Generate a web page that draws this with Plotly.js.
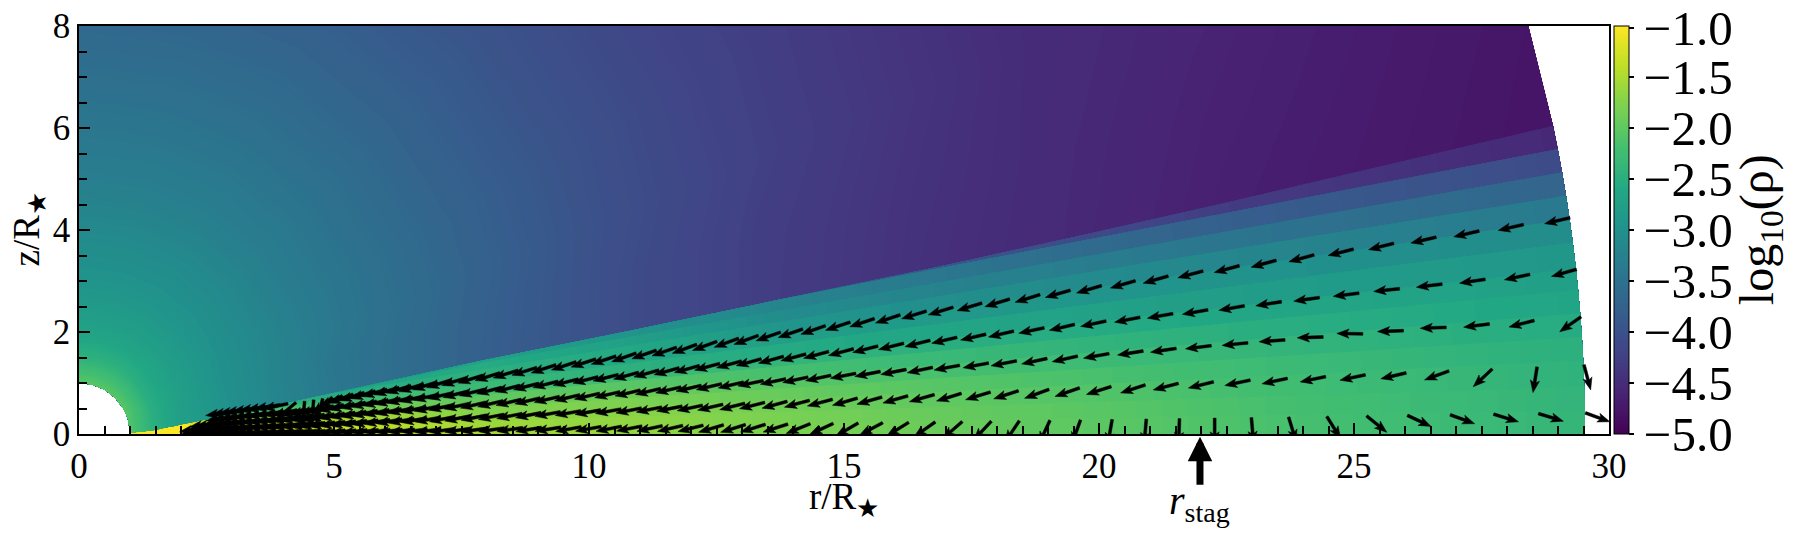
<!DOCTYPE html>
<html>
<head>
<meta charset="utf-8">
<script src="https://cdn.plot.ly/plotly-3.0.1.min.js"></script>
<style>html,body{margin:0;padding:0;background:#fff}</style>
</head>
<body>
<div id="chart" style="width:1794px;height:536px"></div>
<script>
// Radial stations of the density table (R/R_star)
const radii = [1, 1.5, 2, 3, 5, 8, 11, 14, 17, 20, 23, 29.53];
// Disc surface angle above the midplane (deg) at each station
const surfaceAngle = [0.5, 2.5, 4.8, 7, 9.1, 10.3, 10.6, 10.85, 11, 11.2, 11.4, 11.8];

// Band edges (deg) and log10(rho) in each band at each station
const bandEdges = [0, 0.9, 1.8, 2.8, 3.7, 4.6, 5.5, 6.3, 7.3, 8.2, 9.1, 10, 10.9, 11.8];
const bandRho = [
    [-1, -1, -1, -1.1, -1.3, -1.55, -1.65, -1.8, -1.93, -2.03, -2.15, -2.38],
    [-1, -1, -1, -1.12, -1.33, -1.58, -1.67, -1.82, -1.95, -2.05, -2.17, -2.4],
    [-1, -1, -1, -1.2, -1.4, -1.65, -1.72, -1.87, -2, -2.1, -2.21, -2.43],
    [-1, -1, -1, -1.3, -1.5, -1.75, -1.8, -1.95, -2.07, -2.17, -2.27, -2.48],
    [-1, -1, -1, -1.45, -1.65, -1.88, -1.9, -2.06, -2.18, -2.28, -2.37, -2.55],
    [-1, -1, -1, -1.6, -1.8, -2, -2.05, -2.2, -2.32, -2.41, -2.49, -2.65],
    [-1, -1, -1, -1.8, -2, -2.15, -2.27, -2.38, -2.48, -2.56, -2.63, -2.76],
    [-1, -1, -1, -2, -2.2, -2.3, -2.47, -2.57, -2.65, -2.73, -2.8, -2.89],
    [-1, -1, -1, -2.2, -2.4, -2.4, -2.63, -2.76, -2.85, -2.92, -2.98, -3.08],
    [-1, -1, -1, -2.4, -2.55, -2.45, -2.6, -2.93, -3.03, -3.1, -3.18, -3.38],
    [-1, -1, -1, -2.6, -2.7, -2.55, -2.75, -3.08, -3.22, -3.32, -3.45, -3.72],
    [-1, -1, -1, -2.75, -2.9, -2.7, -2.95, -3.2, -3.4, -3.6, -3.8, -4.1],
    [-1, -1, -1, -3, -3.2, -3, -3.2, -3.5, -3.9, -4.1, -4.3, -4.55]
];

// Wind above the disc: angle rows (deg) and log10(rho) at each station
const windAngles = [null, 16, 22, 30, 45, 60, 75, 90];
const windRho = [
    [-2.1, -2.5, -2.75, -3, -3.4, -3.78, -4.08, -4.3, -4.45, -4.55, -4.65, -4.78],
    [-2.1, -2.5, -2.75, -3, -3.4, -3.75, -4.06, -4.28, -4.42, -4.53, -4.62, -4.76],
    [-2.05, -2.5, -2.72, -3, -3.35, -3.7, -4.01, -4.22, -4.37, -4.5, -4.57, -4.72],
    [-2.05, -2.5, -2.72, -2.98, -3.33, -3.68, -3.98, -4.2, -4.35, -4.48, -4.55, -4.7],
    [-2.05, -2.47, -2.7, -2.96, -3.31, -3.66, -3.96, -4.17, -4.32, -4.45, -4.53, -4.68],
    [-2.05, -2.45, -2.7, -2.95, -3.3, -3.65, -3.95, -4.15, -4.3, -4.43, -4.5, -4.65],
    [-2.05, -2.45, -2.7, -2.95, -3.3, -3.65, -3.95, -4.15, -4.3, -4.43, -4.5, -4.65],
    [-2.05, -2.45, -2.7, -2.95, -3.3, -3.65, -3.95, -4.15, -4.3, -4.43, -4.5, -4.65]
];

// Arrow tails: radius of each column, outside to inside
const arrowRadii = [
    29.54, 28.62, 27.74, 26.89, 26.05, 25.25, 24.47, 23.72, 22.99, 22.27,
    21.58, 20.93, 20.26, 19.64, 19.04, 18.44, 17.89, 17.32, 16.79, 16.27,
    15.76, 15.28, 14.79, 14.34, 13.9, 13.46, 13.07, 12.64, 12.24, 11.84,
    11.44, 11.04, 10.64, 10.24, 9.85, 9.45, 9.07, 8.7, 8.34, 8,
    7.68, 7.38, 7.1, 6.83, 6.58, 6.34, 6.1, 5.87, 5.65, 5.43,
    5.22, 5.02, 4.83, 4.65, 4.47, 4.3, 4.14, 3.98, 3.83, 3.68,
    3.54, 3.4, 3.27, 3.14, 3.02, 2.9, 2.79, 2.68, 2.58, 2.48
];
// Slope z/r of each arrow row
const arrowSlopes = [0.145, 0.11, 0.078, 0.046, 0.014];
// Dip of each arrow below the leftward direction (deg), same columns
const arrowDips = [
    [13, 13, 13, 13, 14, 14, 15, 15, 15, 15,
     16, 16, 16, 16, 17, 17, 17, 17, 17, 18,
     18, 18, 19, 19, 19, 20, 20, 20, 20, 19,
     19, 19, 18, 18, 18, 18, 17, 17, 17, 17,
     17, 17, 17, 17, 16, 16, 16, 17, 18, 20,
     25, 40, 75, 85, 85, 40, 12, 9, 9, 8,
     8, 8, 8, 8, 8],
    [16, 12, 8.5, 7, 6, 7, 8, 9, 10, 10,
     10, 11, 12, 13, 12, 13, 13, 13, 14, 14,
     14, 15, 15, 15, 15, 15, 15, 15, 15, 15,
     15, 15, 14, 14, 14, 14, 14, 14, 14, 14,
     14, 13, 13, 13, 13, 13, 13, 13, 13, 14,
     14, 15, 16, 16, 14, 12, 10, 9, 9, 8,
     8, 8, 8, 8, 8],
    [35, 14.5, 7, 2, 2, -1, 2, 4, 5.7, 7,
     8.5, 9, 10, 12.5, 12, 11, 10.6, 10.6, 12, 11,
     11, 11, 12, 12, 12, 12, 13, 13, 13, 13,
     13, 13, 13, 13, 13, 13, 13, 13, 13, 13,
     12, 12, 12, 12, 12, 12, 12, 12, 12, 12,
     12, 12, 12, 11, 11, 10, 10, 9, 9, 8,
     8, 8, 8, 8, 8, 8, 8, 8],
    [105, 81, 43, 20, 13, 12, 11.6, 12, 12, 14,
     14.4, 17.8, 17.8, 19, 20, 18, 17, 17, 15.8, 16,
     16, 16, 15, 15, 15, 14, 14, 13, 12, 11,
     11, 11, 10, 10, 10, 10, 11, 11, 11, 11,
     11, 11, 10, 10, 10, 10, 10, 10, 10, 10,
     10, 10, 10, 9, 9, 9, 9, 8, 8, 8,
     8, 8, 8, 8, 8, 8, 8, 8, 8, 8],
    [160, 163, 163, 160, 155, 141, 122, 107, 95, 90,
     88, 85, 80, 70, 65, 56, 47, 41, 35, 32,
     28, 30, 25, 22, 18, 17, 17, 16, 14, 13,
     12, 11, 11, 10, 10, 9, 9, 8, 8, 8,
     8, 8, 8, 7, 7, 7, 7, 7, 7, 7,
     7, 7, 7, 7, 7, 6, 6, 6, 6, 6,
     6, 6, 6, 6, 6, 6, 6, 6, 6, 6]
];
const arrowLength = 0.51;

const xTicks = [0, 5, 10, 15, 20, 25, 30];
const yTicks = [0, 2, 4, 6, 8];
const rhoTicks = [-5, -4.5, -4, -3.5, -3, -2.5, -2, -1.5, -1];
const rStag = 21.98;

const serif = '"Liberation Serif", "Times New Roman", serif';
const rad = Math.PI / 180;

// Carpet grid: one row per angle, two rows per band so the band edges stay sharp
let rowAngles = [];
let rowRho = [];
for (let b = 0; b < bandRho.length; b++) {
    const gap = b === 0 ? 0 : 0.01;
    rowAngles.push(radii.map((r, j) => Math.min(bandEdges[b] + gap, surfaceAngle[j])));
    rowRho.push(bandRho[b]);
    rowAngles.push(radii.map((r, j) => Math.min(bandEdges[b + 1], surfaceAngle[j])));
    rowRho.push(bandRho[b]);
}
for (let w = 0; w < windAngles.length; w++) {
    rowAngles.push(radii.map((r, j) => windAngles[w] === null ? surfaceAngle[j] + 0.01 : windAngles[w]));
    rowRho.push(windRho[w]);
}
const gridX = rowAngles.map(row => row.map((t, j) => radii[j] * Math.cos(t * rad)));
const gridY = rowAngles.map(row => row.map((t, j) => radii[j] * Math.sin(t * rad)));
const rowIndex = rowAngles.map((row, i) => i);

// One closed outline per arrow, nulls between them
let arrowX = [];
let arrowY = [];
arrowSlopes.forEach((slope, row) => {
    const a = Math.atan(slope);
    arrowDips[row].forEach((dip, col) => {
        const tx = arrowRadii[col] * Math.cos(a);
        const ty = arrowRadii[col] * Math.sin(a);
        const ux = -Math.cos(dip * rad);
        const uy = -Math.sin(dip * rad);
        const outline = [
            [0, 0.028], [arrowLength - 0.2, 0.028], [arrowLength - 0.24, 0.09], [arrowLength, 0],
            [arrowLength - 0.24, -0.09], [arrowLength - 0.2, -0.028], [0, -0.028], [0, 0.028]
        ];
        outline.forEach(p => {
            arrowX.push(tx + p[0] * ux - p[1] * uy);
            arrowY.push(ty + p[0] * uy + p[1] * ux);
        });
        arrowX.push(null);
        arrowY.push(null);
    });
});

const viridis = [
    [0, '#440154'], [0.1, '#482475'], [0.2, '#414487'], [0.3, '#355f8d'], [0.4, '#2a788e'],
    [0.5, '#21918c'], [0.6, '#22a884'], [0.7, '#44bf70'], [0.8, '#7ad151'], [0.9, '#bddf26'], [1, '#fde725']
];

Plotly.newPlot('chart', [
    {
        type: 'carpet',
        carpet: 'disc',
        a: radii,
        b: rowIndex,
        x: gridX,
        y: gridY,
        aaxis: { smoothing: 0, showgrid: false, showline: false, startline: false, endline: false, showticklabels: 'none', minorgridcount: 0, tickmode: 'array', tickvals: [] },
        baxis: { smoothing: 0, showgrid: false, showline: false, startline: false, endline: false, showticklabels: 'none', minorgridcount: 0, tickmode: 'array', tickvals: [] }
    },
    {
        type: 'contourcarpet',
        carpet: 'disc',
        a: radii,
        b: rowIndex,
        z: rowRho,
        autocontour: false,
        contours: { coloring: 'fill', start: -5, end: -0.97, size: 0.02, showlines: false },
        line: { width: 0, smoothing: 0 },
        zmin: -5,
        zmax: -1,
        colorscale: viridis,
        colorbar: {
            x: 1.0033, xanchor: 'left', xpad: 0, y: 0, yanchor: 'bottom', ypad: 0, len: 1, thickness: 15,
            outlinewidth: 1, outlinecolor: '#000',
            // the top tick sits a hair inside the bar, exactly on the end it gets dropped
            tickmode: 'array', tickvals: rhoTicks.map(v => v === -1 ? -1.02 : v), ticktext: rhoTicks.map(v => '\u2212' + Math.abs(v).toFixed(1)),
            ticks: 'outside', ticklen: 5, tickwidth: 1.5, tickcolor: '#000',
            tickfont: { family: serif, size: 49, color: '#000' }
        }
    },
    {
        type: 'scatter',
        mode: 'lines',
        x: arrowX,
        y: arrowY,
        fill: 'toself',
        fillcolor: '#000',
        line: { color: '#000', width: 0.5 },
        hoverinfo: 'skip',
        showlegend: false
    }
], {
    width: 1794,
    height: 536,
    margin: { l: 79, r: 185, t: 26, b: 102, pad: 0 },
    paper_bgcolor: '#fff',
    plot_bgcolor: '#fff',
    showlegend: false,
    font: { family: serif, color: '#000' },
    xaxis: {
        range: [0, 30],
        tickmode: 'array', tickvals: xTicks,
        ticks: 'inside', ticklen: 11, tickwidth: 2, tickcolor: '#000',
        minor: { dtick: 0.5, tick0: 0, ticks: 'inside', ticklen: 8, tickwidth: 2, tickcolor: '#000' },
        showgrid: false, zeroline: false, showline: true, mirror: true, linecolor: '#000', linewidth: 1.5,
        tickfont: { family: serif, size: 35, color: '#000' }
    },
    yaxis: {
        range: [0, 8],
        tickmode: 'array', tickvals: yTicks,
        ticks: 'inside', ticklen: 11, tickwidth: 2, tickcolor: '#000',
        minor: { dtick: 0.5, tick0: 0, ticks: 'inside', ticklen: 8, tickwidth: 2, tickcolor: '#000' },
        showgrid: false, zeroline: false, showline: true, mirror: true, linecolor: '#000', linewidth: 1.5,
        tickfont: { family: serif, size: 35, color: '#000' }
    },
    annotations: [
        {
            x: 0.5, xref: 'paper', y: -0.16, yref: 'paper', xanchor: 'center', yanchor: 'middle',
            text: 'r/R<sub>\u2605</sub>', showarrow: false,
            font: { family: serif, size: 37, color: '#000' }
        },
        {
            x: -0.033, xref: 'paper', y: 0.5, yref: 'paper', xanchor: 'center', yanchor: 'middle',
            text: 'z/R<sub>\u2605</sub>', textangle: -90, showarrow: false,
            font: { family: serif, size: 37, color: '#000' }
        },
        {
            x: rStag, xref: 'x', y: -0.007, yref: 'paper',
            ax: 0, ay: 50, axref: 'pixel', ayref: 'pixel',
            text: ' ', font: { size: 1 }, showarrow: true, arrowhead: 2, arrowwidth: 7, arrowsize: 0.7, arrowcolor: '#000', standoff: 0
        },
        {
            x: rStag, xref: 'x', y: -0.168, yref: 'paper', yanchor: 'middle', xanchor: 'center',
            text: '<i>r</i><sub>stag</sub>', showarrow: false,
            font: { family: serif, size: 40, color: '#000' }
        },
        {
            x: 1.0988, xref: 'paper', y: 0.5, yref: 'paper', xanchor: 'center', yanchor: 'middle',
            text: 'log<sub>10</sub>(\u03c1)', textangle: -90, showarrow: false,
            font: { family: serif, size: 48, color: '#000' }
        }
    ]
}, { displayModeBar: false });
</script>
</body>
</html>
